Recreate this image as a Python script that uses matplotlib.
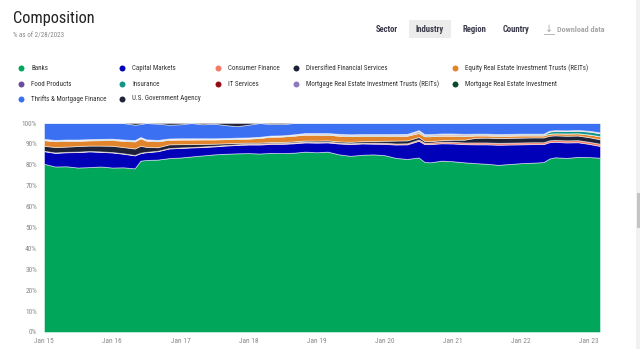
import matplotlib
matplotlib.use("Agg")
import matplotlib.pyplot as plt
from matplotlib.patches import Rectangle
import numpy as np
import pandas as pd

plt.rcParams['font.family'] = ['Liberation Sans Narrow', 'Roboto Condensed', 'Liberation Sans', 'DejaVu Sans']

# ---------------- data ----------------
dates = ["2015-01-01", "2015-03-01", "2015-05-01", "2015-07-01", "2015-09-01", "2015-11-01",
         "2016-01-01", "2016-03-01", "2016-05-01", "2016-06-01", "2016-07-01", "2016-09-01", "2016-11-01",
         "2017-01-01", "2017-03-01", "2017-05-01", "2017-07-01", "2017-09-01", "2017-11-01",
         "2018-01-01", "2018-03-01", "2018-05-01", "2018-07-01", "2018-09-01", "2018-11-01",
         "2019-01-01", "2019-03-01", "2019-05-01", "2019-07-01", "2019-09-01", "2019-11-01",
         "2020-01-01", "2020-03-01", "2020-05-01", "2020-07-01", "2020-08-01", "2020-09-01", "2020-11-01",
         "2021-01-01", "2021-03-01", "2021-05-01", "2021-07-01", "2021-09-01", "2021-11-01",
         "2022-01-01", "2022-03-01", "2022-05-01", "2022-06-01", "2022-07-01", "2022-09-01", "2022-11-01",
         "2023-01-01", "2023-02-28"]

banks = [80.5, 79.2, 79.3, 78.7, 78.9, 79.2,
         78.7, 78.8, 78.3, 82.0, 82.3, 82.5, 83.2,
         83.5, 84.0, 84.5, 85.0, 85.3, 85.5,
         85.6, 85.4, 85.7, 85.6, 85.8, 86.3,
         86.0, 86.3, 85.0, 84.3, 84.8, 85.0,
         84.6, 83.3, 82.8, 83.5, 81.4, 81.2, 82.0,
         81.7, 81.2, 80.8, 80.5, 80.0, 80.4,
         80.8, 81.0, 81.3, 83.0, 83.6, 83.3, 83.8,
         83.7, 83.4]
capital_markets = [6.0, 6.5, 6.7, 7.4, 7.5, 7.0,
                   7.2, 6.5, 6.2, 3.6, 3.7, 4.0, 4.6,
                   4.6, 4.3, 4.0, 3.8, 3.9, 4.0,
                   4.1, 4.3, 4.3, 4.4, 4.5, 4.4,
                   4.6, 4.4, 5.2, 5.6, 5.4, 5.1,
                   5.4, 6.4, 7.0, 8.0, 8.5, 8.7, 8.3,
                   8.5, 8.7, 9.0, 9.3, 9.6, 9.3,
                   9.0, 8.9, 8.6, 7.8, 7.4, 7.4, 7.0,
                   6.3, 5.6]
consumer_finance = [0.2, 0.2, 0.2, 0.2, 0.2, 0.2,
                    0.2, 0.2, 0.2, 0.2, 0.2, 0.2, 0.2,
                    0.2, 0.2, 0.3, 0.3, 0.3, 0.3,
                    0.4, 0.4, 0.4, 0.4, 0.4, 0.4,
                    0.4, 0.4, 0.4, 0.4, 0.4, 0.5,
                    0.5, 0.5, 0.5, 0.6, 0.7, 0.7, 0.8,
                    0.8, 0.8, 0.9, 0.9, 0.9, 0.9,
                    0.9, 0.9, 0.9, 0.9, 0.9, 1.0, 1.0,
                    1.0, 1.1]
diversified_financial = [2.4, 2.6, 2.5, 2.7, 2.6, 2.8,
                         3.0, 3.0, 3.1, 3.3, 2.4, 1.7, 1.8,
                         1.6, 1.4, 1.2, 1.0, 0.8, 0.7,
                         0.5, 0.5, 0.5, 0.5, 0.5, 0.5,
                         0.6, 0.6, 0.6, 0.7, 0.7, 0.8,
                         1.0, 1.4, 1.4, 1.2, 0.8, 0.7, 0.7,
                         1.0, 1.3, 2.2, 2.3, 2.3, 2.3,
                         2.3, 2.3, 2.3, 2.2, 2.2, 2.2, 2.2,
                         2.2, 2.1]
equity_reits = [2.7, 2.8, 2.8, 2.5, 2.5, 2.6,
                2.8, 3.0, 3.4, 3.6, 3.0, 2.9, 2.2,
                2.2, 2.2, 2.2, 2.1, 2.0, 2.0,
                2.0, 2.3, 2.6, 2.7, 2.8, 2.9,
                2.8, 2.7, 2.8, 2.8, 2.6, 2.5,
                2.4, 2.3, 2.3, 2.0, 2.3, 2.4, 2.2,
                2.0, 1.8, 1.2, 1.1, 1.1, 1.1,
                1.1, 1.0, 1.0, 1.0, 1.0, 1.1, 1.1,
                1.3, 1.5]
food_products = [0.1] * 15 + [0.0] * 38
insurance = [0.3] * 34 + [0.4] + [0.3] * 12 + [1.0, 1.1, 1.1, 1.2, 1.4, 1.4]
it_services = [0.0] * 25 + [0.1] * 9 + [0.4] + [0.3] * 5 + [0.2] * 7 + [0.1] * 6
mortgage_reits = [0.2] * 23 + [0.3, 0.4] + [0.4] * 9 + [0.4] + [0.3] * 5 + [0.2] * 7 + [0.2] * 6
mortgage_re_investment = [0.0] * 34 + [0.1] + [0.1] * 18
thrifts = [7.6, 8.1, 7.9, 7.9, 7.7, 7.6,
           7.5, 7.9, 7.4, 6.2, 7.8, 7.8, 6.6,
           6.7, 7.3, 6.7, 7.0, 6.2, 5.5,
           6.1, 6.6, 5.5, 5.4, 5.4, 4.8,
           4.8, 4.8, 5.2, 5.4, 5.3, 5.3,
           5.3, 5.3, 5.2, 3.4, 5.3, 5.3, 5.0,
           5.0, 5.2, 5.1, 5.1, 5.3, 5.2,
           5.1, 5.1, 5.1, 3.7, 3.4, 3.5, 3.3,
           3.7, 4.5]
us_gov_agency = [0.0] * 8 + [0.8, 0.5, 0.0, 0.3, 0.8, 0.6, 0.0, 0.6, 0.3, 1.0, 1.5, 0.8, 0.0, 0.5, 0.5] + [0.0] * 30

industries = ["Banks", "Capital Markets", "Consumer Finance", "Diversified Financial Services",
              "Equity Real Estate Investment Trusts (REITs)", "Food Products", "Insurance", "IT Services",
              "Mortgage Real Estate Investment Trusts (REITs)", "Mortgage Real Estate Investment",
              "Thrifts & Mortgage Finance", "U.S. Government Agency"]
series = [banks, capital_markets, consumer_finance, diversified_financial, equity_reits, food_products,
          insurance, it_services, mortgage_reits, mortgage_re_investment, thrifts, us_gov_agency]
colors = ["#00a65a", "#0000b8", "#f47a66", "#1e2239", "#e2842c", "#6a4b9c",
          "#10958a", "#960c14", "#8c7bbd", "#0b4a2e", "#3b70f2", "#20233a"]

y_ticks = [0, 10, 20, 30, 40, 50, 60, 70, 80, 90, 100]
x_tick_dates = ["2015-01-01", "2016-01-01", "2017-01-01", "2018-01-01", "2019-01-01",
                "2020-01-01", "2021-01-01", "2022-01-01", "2023-01-01"]
x_tick_labels = ["Jan 15", "Jan 16", "Jan 17", "Jan 18", "Jan 19", "Jan 20", "Jan 21", "Jan 22", "Jan 23"]

# ---------------- figure ----------------
W, H = 640, 349
fig = plt.figure(figsize=(W / 100, H / 100), dpi=100)
fig.patch.set_facecolor("white")

x = pd.to_datetime(dates)
vals = np.array(series, dtype=float)
vals = vals / vals.sum(axis=0) * 100.0  # percent stacking

ax = fig.add_axes([44 / W, 1 - 332 / H, (600 - 44) / W, (332 - 123) / H])
ax.set_axisbelow(True)
ax.yaxis.grid(True, color="#e6e6e6", lw=0.6)
ax.stackplot(x, vals, colors=colors, edgecolor=(1, 1, 1, 0.55), linewidth=0.6)
ax.set_xlim(pd.Timestamp("2015-01-01"), pd.Timestamp("2023-02-28"))
ax.set_ylim(0, 100)
for s in ax.spines.values():
    s.set_visible(False)
ax.set_yticks(y_ticks)
ax.set_yticklabels([f"{v}%" for v in y_ticks])
ax.set_xticks(pd.to_datetime(x_tick_dates))
ax.set_xticklabels(x_tick_labels)
ax.tick_params(axis="both", length=0, labelsize=5.3, colors="#8a8a8a")
ax.tick_params(axis="y", pad=5)
ax.tick_params(axis="x", pad=4.5)

# ---------------- overlay: header, buttons, legend ----------------
ov = fig.add_axes([0, 0, 1, 1])
ov.set_xlim(0, W)
ov.set_ylim(H, 0)
ov.axis("off")

ov.text(13, 18, "Composition", fontsize=11.8, color="#222222", va="center", ha="left")
ov.text(13, 36, "% as of 2/28/2023", fontsize=5, color="#888888", va="center", ha="left")

ov.add_patch(Rectangle((409, 20), 42, 18, facecolor="#ececec", edgecolor="none"))
btn_labels = ["Sector", "Industry", "Region", "Country"]
btn_x = [387, 430, 474, 516]
for lab, bx in zip(btn_labels, btn_x):
    ov.text(bx, 29, lab, fontsize=6.2, color="#3a3a4a", fontweight="bold", va="center", ha="center")
ov.text(549, 29, "\u2193", fontsize=7, color="#aaaaaa", va="center", ha="center",
        family=["DejaVu Sans"])
ov.plot([544, 554], [34, 34], color="#aaaaaa", lw=0.6)
ov.text(557, 29, "Download data", fontsize=5.9, color="#a8a8a8", fontweight="bold", va="center", ha="left")

leg_x = [21, 122, 218, 296, 455]
leg_y = [68, 84, 99]
for i, (name, col) in enumerate(zip(industries, colors)):
    r, c = divmod(i, 5)
    ov.plot(leg_x[c], leg_y[r], "o", color=col, markersize=4.3, markeredgewidth=0)
    ov.text(leg_x[c] + 10, leg_y[r], name, fontsize=5.0, color="#333333", va="center", ha="left")

# scrollbar
ov.add_patch(Rectangle((636, 0), 4, H, facecolor="#f1f1f1", edgecolor="none"))
ov.add_patch(Rectangle((637, 193), 3, 35, facecolor="#c4c4c4", edgecolor="none"))

fig.savefig("out.png", dpi=100)
